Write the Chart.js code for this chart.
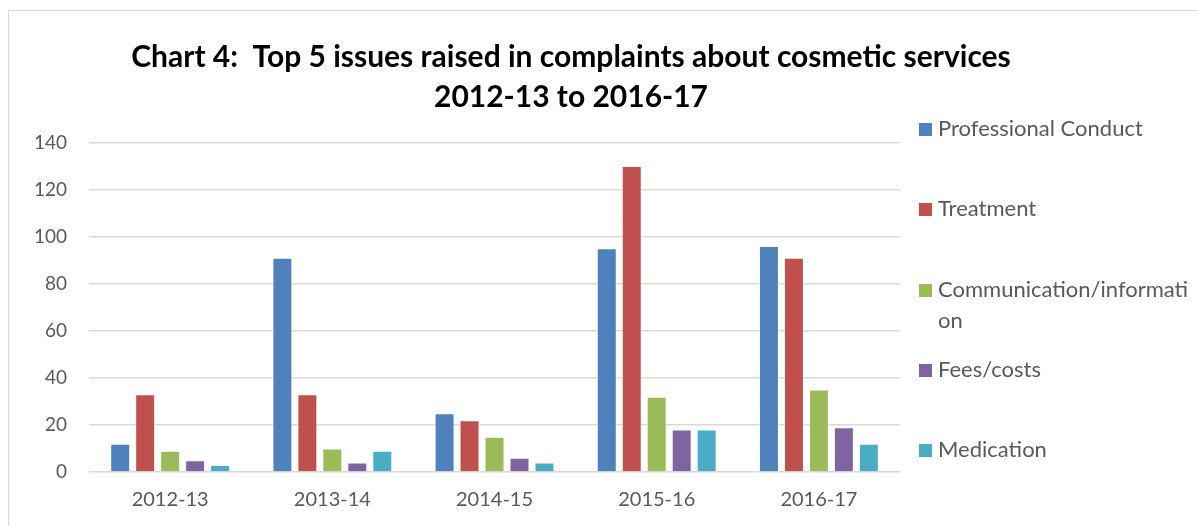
<!DOCTYPE html>
<html>
<head>
<meta charset="utf-8">
<script src="https://cdn.jsdelivr.net/npm/chart.js@4"></script>
<style>
  html, body { margin: 0; padding: 0; background: #fff; overflow: hidden; }
  #frame { position: absolute; left: 8px; top: 10px; width: 1300px; height: 600px;
           border-left: 1px solid #d9d9d9; border-top: 1px solid #d9d9d9; }
  #wrap { position: absolute; left: 0; top: 0; width: 1198px; height: 526px; }
</style>
</head>
<body>
<div id="frame"></div>
<div id="wrap"><canvas id="chart" width="1198" height="526"></canvas></div>
<script>
// ===== data =====
const years = ['2012-13', '2013-14', '2014-15', '2015-16', '2016-17'];
const professionalConduct = [12, 91, 25, 95, 96];
const treatment = [33, 33, 22, 130, 91];
const communication = [9, 10, 15, 32, 35];
const feesCosts = [5, 4, 6, 18, 19];
const medication = [3, 9, 4, 18, 12];
const yTicks = [0, 20, 40, 60, 80, 100, 120, 140];

const FONT = 'Lato, "Open Sans", sans-serif';
const TEXT = '#595959';

// legend entries; the long one wraps like in the original
const legendItems = [
    { lines: ['Professional Conduct'], color: '#4F81BD' },
    { lines: ['Treatment'], color: '#C0504D' },
    { lines: ['Communication/informati', 'on'], color: '#9BBB59' },
    { lines: ['Fees/costs'], color: '#8064A2' },
    { lines: ['Medication'], color: '#4BACC6' }
];

const sideLegend = {
    id: 'sideLegend',
    afterDraw(chart) {
        const ctx = chart.ctx;
        ctx.save();
        ctx.font = '22px ' + FONT;
        ctx.textBaseline = 'middle';
        ctx.textAlign = 'left';
        const rowYs = [129, 209, 290, 370, 450];
        legendItems.forEach((item, i) => {
            const y = rowYs[i];
            ctx.fillStyle = item.color;
            ctx.fillRect(919, y - 6, 13, 13);
            ctx.fillStyle = TEXT;
            item.lines.forEach((line, j) => ctx.fillText(line, 938, y + j * 31));
        });
        ctx.restore();
    }
};

function makeSet(label, data, color) {
    return {
        label, data,
        backgroundColor: color,
        borderColor: 'rgba(255,255,255,0.6)',
        borderWidth: 1,
        categoryPercentage: 0.77,
        barPercentage: 0.8
    };
}

new Chart(document.getElementById('chart'), {
    type: 'bar',
    data: {
        labels: years,
        datasets: [
            makeSet('Professional Conduct', professionalConduct, '#4F81BD'),
            makeSet('Treatment', treatment, '#C0504D'),
            makeSet('Communication/information', communication, '#9BBB59'),
            makeSet('Fees/costs', feesCosts, '#8064A2'),
            makeSet('Medication', medication, '#4BACC6')
        ]
    },
    options: {
        responsive: false,
        animation: false,
        layout: { padding: { left: 12, right: 68, top: 18, bottom: 6 } },
        plugins: {
            legend: { display: false },
            tooltip: { enabled: false },
            title: {
                display: true,
                text: ['Chart 4:  Top 5 issues raised in complaints about cosmetic services', '2012-13 to 2016-17'],
                color: '#000',
                font: { family: FONT, size: 30, weight: 'bold', lineHeight: 1.34 },
                padding: { top: 19, bottom: 25 }
            }
        },
        scales: {
            y: {
                min: 0,
                max: 140,
                afterBuildTicks: (scale) => { scale.ticks = yTicks.map(v => ({ value: v })); },
                grid: { color: '#d9d9d9', lineWidth: 1.5, drawTicks: false },
                border: { display: false },
                ticks: { color: TEXT, font: { family: FONT, size: 19 }, padding: 22 }
            },
            // empty right axis: only reserves the room where the legend sits
            legendRoom: {
                position: 'right',
                grid: { display: false },
                border: { display: false },
                ticks: { display: false },
                afterFit: (scale) => { scale.width = 230; }
            },
            x: {
                grid: { display: false },
                border: { display: false },
                ticks: { color: TEXT, font: { family: FONT, size: 20 }, padding: 8 }
            }
        }
    },
    plugins: [sideLegend]
});
</script>
</body>
</html>
